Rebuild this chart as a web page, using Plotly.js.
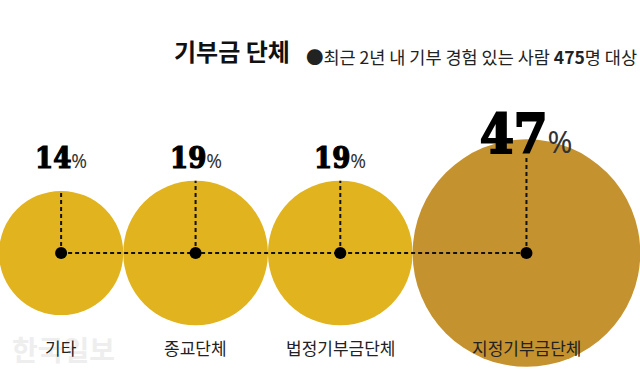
<!DOCTYPE html>
<html>
<head>
<meta charset="utf-8">
<script src="https://cdn.plot.ly/plotly-3.0.1.min.js"></script>
<style>html,body{margin:0;padding:0;background:#fff;}#chart{width:640px;height:374px;}</style>
</head>
<body>
<div id="chart"></div>
<script>
// ---- data ----
const categories = ["기타", "종교단체", "법정기부금단체", "지정기부금단체"];
const shares = [14, 19, 19, 47];
const colors = ["#E0B31F", "#E0B31F", "#E0B31F", "#C4922F"];
const titleText = "기부금 단체";
const subtitleText = "●최근 2년 내 기부 경험 있는 사람 <b>475</b>명 대상";
const watermark = "한국일보";

// ---- layout helpers (pixel axes) ----
const W = 640, H = 374;
const K = 16.6;            // radius per sqrt(percent), area-proportional circles
const cy = 253;
const radii = shares.map(v => K * Math.sqrt(v));
const cx = [];
radii.forEach((r, i) => {
  if (i === 0) cx.push(r - 1);
  else cx.push(cx[i - 1] + radii[i - 1] + r);
});

const traces = [];
// circles
traces.push({
  type: "scatter", mode: "markers", x: cx, y: cx.map(() => cy),
  marker: { size: radii.map(r => 2 * r), sizemode: "diameter", color: colors, opacity: 1, line: { width: 0 } },
  hoverinfo: "skip", showlegend: false
});
// horizontal dashed connector
traces.push({
  type: "scatter", mode: "lines", x: [cx[0], cx[cx.length - 1]], y: [cy, cy],
  line: { color: "#111", width: 2, dash: "4px,3px" }, hoverinfo: "skip", showlegend: false
});
// vertical dashed lines
const labelBottom = [];
cx.forEach((x, i) => {
  const top = cy - radii[i];
  const lb = Math.min(177, top + 29);
  labelBottom.push(lb);
  const lineTop = Math.max(top, lb - 12);
  traces.push({
    type: "scatter", mode: "lines", x: [x, x], y: [cy, lineTop],
    line: { color: "#111", width: 2, dash: "4px,3px" }, hoverinfo: "skip", showlegend: false
  });
});
// center dots
traces.push({
  type: "scatter", mode: "markers", x: cx, y: cx.map(() => cy),
  marker: { size: 12, color: "#000", opacity: 1 }, hoverinfo: "skip", showlegend: false
});

const annotations = [];
annotations.push({
  x: 10, y: 349, xref: "x", yref: "y", xanchor: "left", yanchor: "middle", showarrow: false,
  text: "<b>" + watermark + "</b>", font: { family: "Noto Sans CJK KR", size: 28, color: "#eeeeee" }
});
annotations.push({
  x: 172, y: 50, xref: "x", yref: "y", xanchor: "left", yanchor: "middle", showarrow: false,
  text: "<b>" + titleText + "</b>", font: { family: "Noto Sans CJK KR", size: 24, color: "#111" }
});
annotations.push({
  x: 304, y: 56, xref: "x", yref: "y", xanchor: "left", yanchor: "middle", showarrow: false,
  text: subtitleText, font: { family: "Noto Sans CJK KR", size: 17.5, color: "#222" }
});
shares.forEach((v, i) => {
  const big = v === Math.max(...shares);
  const ns = big ? 54 : 29, ps = big ? 30 : 19, sw = big ? 2.2 : 1.2;
  annotations.push({
    x: cx[i], y: labelBottom[i], xref: "x", yref: "y", xanchor: "center", yanchor: "bottom", showarrow: false,
    text: "<span style=\"font-weight:bold;stroke:#000;stroke-width:" + sw + "px\">" + v + "</span>" +
          "<span style=\"font-family:'Noto Sans';font-size:" + ps + "px;font-weight:normal;color:#333\">%</span>",
    font: { family: "DejaVu Serif Condensed, DejaVu Serif", size: ns, color: "#000" }
  });
  annotations.push({
    x: cx[i], y: 347, xref: "x", yref: "y", xanchor: "center", yanchor: "middle", showarrow: false,
    text: categories[i], font: { family: "Noto Sans CJK KR", size: 17, color: "#222" }
  });
});

const layout = {
  width: W, height: H, margin: { l: 0, r: 0, t: 0, b: 0 },
  paper_bgcolor: "#fff", plot_bgcolor: "#fff",
  xaxis: { range: [0, W], visible: false, fixedrange: true },
  yaxis: { range: [H, 0], visible: false, fixedrange: true },
  annotations: annotations, showlegend: false
};
Plotly.newPlot("chart", traces, layout, { staticPlot: true, displayModeBar: false });
</script>
</body>
</html>
